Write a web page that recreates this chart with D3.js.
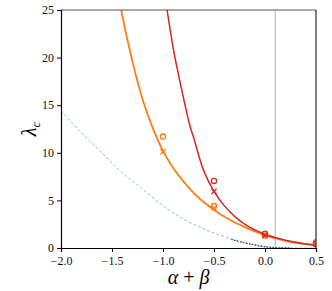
<!DOCTYPE html>
<html>
<head>
<meta charset="utf-8">
<script src="https://cdn.jsdelivr.net/npm/d3@7"></script>
<style>
  body { margin: 0; background: #fff; }
  svg text { font-family: "Liberation Serif", "DejaVu Serif", serif; }
</style>
</head>
<body>
<div id="chart"></div>
<script>
var width = 332
var height = 291
var margin = { top: 10, right: 16, bottom: 43, left: 61 }

// curves: [alpha+beta, lambda_c]
var orangeCurve = [[-1.45, 27.5], [-1.41, 25], [-1.3, 19.6], [-1.2, 15.6], [-1.1, 12.6], [-1.0, 10.2],
    [-0.9, 8.4], [-0.8, 7.0], [-0.7, 5.8], [-0.6, 4.8], [-0.5, 4.0], [-0.4, 3.3], [-0.3, 2.7],
    [-0.2, 2.2], [-0.1, 1.75], [0, 1.35], [0.1, 1.0], [0.2, 0.75], [0.3, 0.55], [0.4, 0.4], [0.5, 0.3]]
var redCurve = [[-1.0, 28], [-0.96, 25], [-0.9, 21], [-0.85, 18.3], [-0.8, 15.8], [-0.74, 13.0],
    [-0.7, 11.6], [-0.6, 8.1], [-0.5, 5.95], [-0.4, 4.45], [-0.3, 3.35], [-0.2, 2.5], [-0.1, 1.9],
    [0, 1.45], [0.1, 1.1], [0.2, 0.82], [0.3, 0.6], [0.4, 0.43], [0.5, 0.3]]
var blueCurve = [[-2.0, 14.4], [-1.8, 12.1], [-1.6, 10.0], [-1.4, 7.9], [-1.2, 6.2], [-1.0, 4.45],
    [-0.8, 3.05], [-0.6, 2.0], [-0.4, 1.2], [-0.2, 0.55], [0, 0.18], [0.2, 0.02], [0.5, 0.0]]
var darkCurve = [[-0.33, 0.9], [-0.2, 0.55], [-0.1, 0.32], [0, 0.12], [0.1, 0.03], [0.25, 0.0]]

// markers
var orangeCircles = [[-1.0, 11.7], [-0.5, 4.4], [0.0, 1.3], [0.5, 0.6]]
var orangeCrosses = [[-1.0, 10.1], [-0.5, 4.2], [0.5, 0.35]]
var redCircles = [[-0.5, 7.05], [0.0, 1.5], [0.5, 0.45]]
var redCrosses = [[-0.5, 5.95], [0.0, 1.3]]

var xTicks = [-2.0, -1.5, -1.0, -0.5, 0.0, 0.5]
var yTicks = [0, 5, 10, 15, 20, 25]
var vline = 0.1

var svg = d3.select("#chart")
    .append("svg")
    .attr("width", width)
    .attr("height", height)

var x = d3.scaleLinear()
    .domain([-2, 0.5])
    .range([margin.left, width - margin.right])

var y = d3.scaleLinear()
    .domain([0, 25])
    .range([height - margin.bottom, margin.top])

svg.append("defs").append("clipPath")
    .attr("id", "clip")
    .append("rect")
    .attr("x", margin.left)
    .attr("y", margin.top)
    .attr("width", width - margin.left - margin.right)
    .attr("height", height - margin.top - margin.bottom)

var plot = svg.append("g").attr("clip-path", "url(#clip)")

// grey vertical line
plot.append("line")
    .attr("x1", x(vline)).attr("x2", x(vline))
    .attr("y1", margin.top).attr("y2", height - margin.bottom)
    .attr("stroke", "#b0b0b0")
    .attr("stroke-width", 1)

var line = d3.line()
    .x(function(d) { return x(d[0]); })
    .y(function(d) { return y(d[1]); })
    .curve(d3.curveCatmullRom.alpha(0.5))

plot.append("path")
    .datum(blueCurve)
    .attr("d", line)
    .attr("fill", "none")
    .attr("stroke", "#8fc1e8")
    .attr("stroke-width", 1)
    .attr("stroke-dasharray", "3,2")

plot.append("path")
    .datum(darkCurve)
    .attr("d", line)
    .attr("fill", "none")
    .attr("stroke", "#2a3f5c")
    .attr("stroke-width", 1.3)
    .attr("stroke-dasharray", "1.5,1.5")

plot.append("path")
    .datum(orangeCurve)
    .attr("d", line)
    .attr("fill", "none")
    .attr("stroke", "#ff7f0e")
    .attr("stroke-width", 1.8)

plot.append("path")
    .datum(redCurve)
    .attr("d", line)
    .attr("fill", "none")
    .attr("stroke", "#d62728")
    .attr("stroke-width", 1.5)

function addCircles(data, color) {
    plot.append("g")
        .selectAll("circle")
        .data(data)
        .enter()
        .append("circle")
        .attr("cx", function(d) { return x(d[0]); })
        .attr("cy", function(d) { return y(d[1]); })
        .attr("r", 2.6)
        .attr("fill", "none")
        .attr("stroke", color)
        .attr("stroke-width", 1.3)
}

function addCrosses(data, color) {
    var s = 2.6
    plot.append("g")
        .selectAll("path")
        .data(data)
        .enter()
        .append("path")
        .attr("d", function(d) {
            var cx = x(d[0]), cy = y(d[1])
            return "M" + (cx - s) + "," + (cy - s) + "L" + (cx + s) + "," + (cy + s) +
                "M" + (cx - s) + "," + (cy + s) + "L" + (cx + s) + "," + (cy - s)
        })
        .attr("stroke", color)
        .attr("stroke-width", 1.3)
}

addCircles(orangeCircles, "#ff7f0e")
addCrosses(orangeCrosses, "#ff7f0e")
addCircles(redCircles, "#d62728")
addCrosses(redCrosses, "#d62728")

// frame
svg.append("line")
    .attr("x1", margin.left).attr("x2", width - margin.right)
    .attr("y1", margin.top).attr("y2", margin.top)
    .attr("stroke", "#555").attr("stroke-width", 1)
svg.append("line")
    .attr("x1", width - margin.right).attr("x2", width - margin.right)
    .attr("y1", margin.top).attr("y2", height - margin.bottom)
    .attr("stroke", "#000").attr("stroke-width", 1)

var fmt = function(d) { return d3.format(".1f")(d).replace("-", "\u2212"); }

var xAxis = svg.append("g")
    .attr("transform", "translate(0," + (height - margin.bottom) + ")")
    .call(d3.axisBottom(x).tickValues(xTicks).tickFormat(fmt).tickSize(4).tickPadding(4))

var yAxis = svg.append("g")
    .attr("transform", "translate(" + margin.left + ",0)")
    .call(d3.axisLeft(y).tickValues(yTicks).tickSize(4).tickPadding(3))

svg.selectAll(".domain").attr("stroke", "#000").attr("stroke-width", 1.2)
svg.selectAll(".tick text")
    .attr("font-size", 12)
    .attr("fill", "#111")
yAxis.selectAll(".tick text").attr("dy", "0.3em")

svg.append("text")
    .attr("x", (margin.left + width - margin.right) / 2)
    .attr("y", 284)
    .attr("text-anchor", "middle")
    .attr("font-size", 20)
    .html('<tspan font-style="italic">\u03b1</tspan> + <tspan font-style="italic">\u03b2</tspan>')

svg.append("text")
    .attr("transform", "translate(36," + ((margin.top + height - margin.bottom) / 2) + ") rotate(-90)")
    .attr("text-anchor", "middle")
    .attr("font-size", 20)
    .html('<tspan font-style="italic">\u03bb</tspan><tspan font-style="italic" font-size="13" dy="4">c</tspan>')
</script>
</body>
</html>
